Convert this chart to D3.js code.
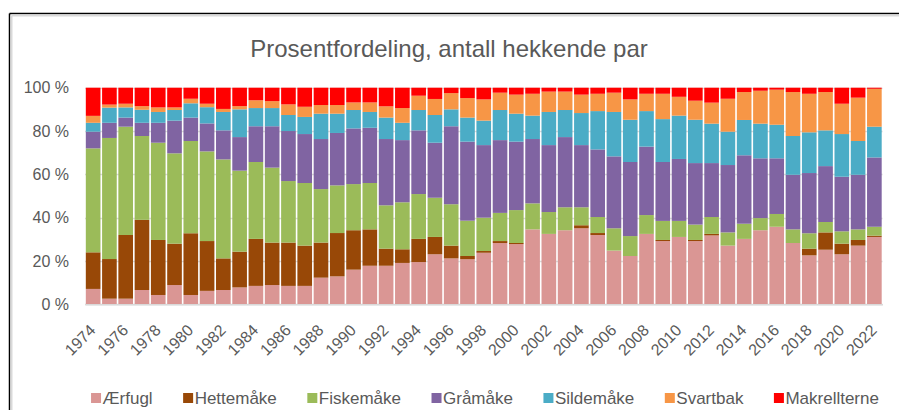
<!DOCTYPE html>
<html lang="no">
<head>
  <meta charset="utf-8">
  <title>Prosentfordeling, antall hekkende par</title>
  <script src="https://cdn.jsdelivr.net/npm/d3@7/dist/d3.min.js"></script>
  <style>
    body { margin: 0; background: #fff; }
    text { font-family: "Liberation Sans", Arial, sans-serif; fill: #595959; }
  </style>
</head>
<body>
<script>
// år (kategorier)
var years = [1974,1975,1976,1977,1978,1979,1980,1981,1982,1983,1984,
  1985,1986,1987,1988,1989,1990,1991,1992,1993,1994,1995,1996,1997,
  1998,1999,2000,2001,2002,2003,2004,2005,2006,2007,2008,2009,
  2010,2011,2012,2013,2014,2015,2016,2017,2018,2019,2020,2021,2022];

// andel (%) per art, lest av figuren
var aerfugl = [7.1,2.6,2.6,6.6,4.3,8.9,4.3,6.2,6.6,7.8,8.5,
  8.9,8.5,8.5,12.3,12.9,16,17.8,17.8,19.1,19.5,23.1,21.2,20.8,
  23.8,28.3,27.8,34.6,32.5,34.2,35.1,32,24.8,22.3,32.5,29.2,
  31.1,29.2,31.8,27.1,30.2,34.2,35.8,28.3,22.6,25.2,23.1,27.1,31.1];
var hettemake = [16.9,18.3,29.4,32.4,25.4,19.1,28.5,23,14.6,16.5,21.7,
  19.6,20,18.6,16.2,20,18.2,16.8,7.9,6.3,10.7,8,5.9,1.5,
  0.8,0.9,0.5,0,0,0,1.4,0.9,0,0,0,0.5,
  0,0.5,0.7,0,0,0,0,0,3.1,8,4.9,2.6,0.6];
var fiskemake = [48,55.9,50,38.7,44.9,41.7,42.6,41.4,45.7,37.4,35.5,
  34.6,28.4,28.9,24.7,22,21.3,21.4,20,21.7,20.7,18.1,19.1,16.3,
  15.4,13,15.2,12,10.1,10.6,8.3,7.4,10.3,9.2,8.7,8.8,
  7.4,7.1,7.8,6.1,7,5.6,5.9,6.3,7.1,4.8,5.7,4.9,4.1];
var gramake = [7.7,7,4.2,6.1,9.2,15.1,10.8,12.9,13.4,15.5,16.5,
  19.1,23.1,22.6,23.1,24.2,25.7,25.5,30.6,28.7,29.4,25.4,36,36.5,
  33.5,33.6,31.6,29.7,30.9,32.4,28.7,31.2,33.2,34.2,31.6,27.2,
  28.6,28.4,24.9,31.1,31.6,27.6,25.7,25.2,27.8,25.8,25.2,25.2,32];
var sildemake = [4.1,7,4.7,6,5,4.9,6.6,7.5,8.5,12.8,8.4,
  8.4,7.4,7.9,11.7,8.9,8.5,7.3,9.9,8,9.4,12.8,7.8,11.1,
  11.3,13.9,12.9,10.8,15.3,12.5,14.8,17.7,20.5,19.5,16.4,19.8,
  20,20,18.2,15.4,16.3,16,15.5,17.9,18.8,16.5,19.7,15.6,14.2];
var svartbak = [3.2,1.4,1.7,1.7,2.1,1.2,2.1,1.6,1.4,1.5,3.6,
  3.2,4.9,4.7,4,4,3.5,4.4,5.2,6.8,6.6,7.4,7.5,9,
  9.8,8,8.8,10.1,9.4,8.5,8.5,8,8.9,9.4,8,11.7,
  8.7,8.8,9.7,15.2,12.9,15.2,16.2,20.3,17.8,17.7,14,20,17.5];
var makrellterne = [13,7.8,7.4,8.5,9.1,9.1,5.1,7.4,9.8,8.5,5.8,
  6.2,7.7,8.8,8,8,6.8,6.8,8.6,9.4,3.7,5.2,2.5,4.8,
  5.4,2.3,3.2,2.8,1.8,1.8,3.2,2.8,2.3,5.4,2.8,2.8,
  4.2,6,6.9,5.1,2,1.4,0.9,2,2.8,2,7.4,4.6,0.5];

var seriesNames = ["Ærfugl","Hettemåke","Fiskemåke","Gråmåke","Sildemåke","Svartbak","Makrellterne"];
var seriesValues = [aerfugl, hettemake, fiskemake, gramake, sildemake, svartbak, makrellterne];
var colors = ["#DA9694","#984807","#9BBB59","#8064A2","#4BACC6","#F79646","#FF0000"];
var yTicks = [0, 0.2, 0.4, 0.6, 0.8, 1];

var w = 899, h = 410;

// tabell for d3.stack
var table = years.map(function(y, i) {
  var row = {year: y};
  seriesNames.forEach(function(s, j) { row[s] = seriesValues[j][i]; });
  return row;
});

var stacked = d3.stack().keys(seriesNames).offset(d3.stackOffsetExpand)(table);

var x = d3.scaleBand()
  .domain(years)
  .range([85, 882.5])
  .paddingInner(0.1)
  .paddingOuter(0.05);

var y = d3.scaleLinear()
  .domain([0, 1])
  .range([304.3, 87.7]);

var color = d3.scaleOrdinal().domain(seriesNames).range(colors);

var svg = d3.select("body").append("svg")
  .attr("width", w)
  .attr("height", h);

// ramme
svg.append("line").attr("x1", 9.5).attr("y1", 13.5).attr("x2", w).attr("y2", 13.5)
  .attr("stroke", "#000").attr("stroke-width", 1.5);
svg.append("line").attr("x1", 9.5).attr("y1", 13.5).attr("x2", 9.5).attr("y2", h)
  .attr("stroke", "#000").attr("stroke-width", 1.5);
svg.append("line").attr("x1", 11.5).attr("y1", 15.5).attr("x2", w).attr("y2", 15.5)
  .attr("stroke", "#d9d9d9").attr("stroke-width", 2);
svg.append("line").attr("x1", 11.5).attr("y1", 15.5).attr("x2", 11.5).attr("y2", h)
  .attr("stroke", "#d9d9d9").attr("stroke-width", 2);

// tittel
svg.append("text")
  .attr("x", 449)
  .attr("y", 57)
  .attr("text-anchor", "middle")
  .style("font-size", "24px")
  .text("Prosentfordeling, antall hekkende par");

// rutenett
svg.append("g").selectAll("line")
  .data(yTicks)
  .enter().append("line")
  .attr("x1", x.range()[0])
  .attr("x2", x.range()[1])
  .attr("y1", function(d) { return Math.round(y(d)) + 0.5; })
  .attr("y2", function(d) { return Math.round(y(d)) + 0.5; })
  .attr("stroke", "#d9d9d9")
  .attr("stroke-width", 1.5);

// y-akse
var yAxis = svg.append("g")
  .attr("transform", "translate(69,0)")
  .call(d3.axisLeft(y).tickValues(yTicks).tickSize(0).tickPadding(0)
    .tickFormat(function(d) { return Math.round(d * 100) + " %"; }));
yAxis.select(".domain").remove();
yAxis.selectAll("text").style("font-size", "16px").attr("fill", "#595959");

// stolper
svg.append("g").selectAll("g")
  .data(stacked)
  .enter().append("g")
  .attr("fill", function(d) { return color(d.key); })
  .selectAll("rect")
  .data(function(d) { return d; })
  .enter().append("rect")
  .attr("x", function(d) { return x(d.data.year); })
  .attr("y", function(d) { return y(d[1]); })
  .attr("width", x.bandwidth())
  .attr("height", function(d) { return y(d[0]) - y(d[1]); });

// x-akse (hvert andre år)
var xAxis = svg.append("g")
  .attr("transform", "translate(0,304.3)")
  .call(d3.axisBottom(x)
    .tickValues(years.filter(function(d) { return d % 2 === 0; }))
    .tickSize(0));
xAxis.select(".domain").attr("stroke", "#d9d9d9").attr("stroke-width", 1.5);
xAxis.selectAll("text")
  .style("font-size", "16px")
  .attr("fill", "#595959")
  .attr("text-anchor", "end")
  .attr("dy", null)
  .attr("y", 0)
  .attr("transform", "translate(3.5,27) rotate(-45)");

// tegnforklaring
var legend = svg.append("g");
var items = legend.selectAll("g")
  .data(seriesNames)
  .enter().append("g");
items.append("rect")
  .attr("width", 10).attr("height", 10)
  .attr("y", 393)
  .attr("fill", function(d) { return color(d); });
items.append("text")
  .attr("x", 11.5)
  .attr("y", 404)
  .style("font-size", "17px")
  .text(function(d) { return d; });

var pos = 0, gap = 30.5;
items.each(function() {
  var g = d3.select(this);
  g.attr("data-x", pos);
  pos += 11.5 + g.select("text").node().getComputedTextLength() + gap;
});
var total = pos - gap;
var start = 485 - total / 2;
items.attr("transform", function() {
  return "translate(" + (start + (+d3.select(this).attr("data-x"))) + ",0)";
});
</script>
</body>
</html>
